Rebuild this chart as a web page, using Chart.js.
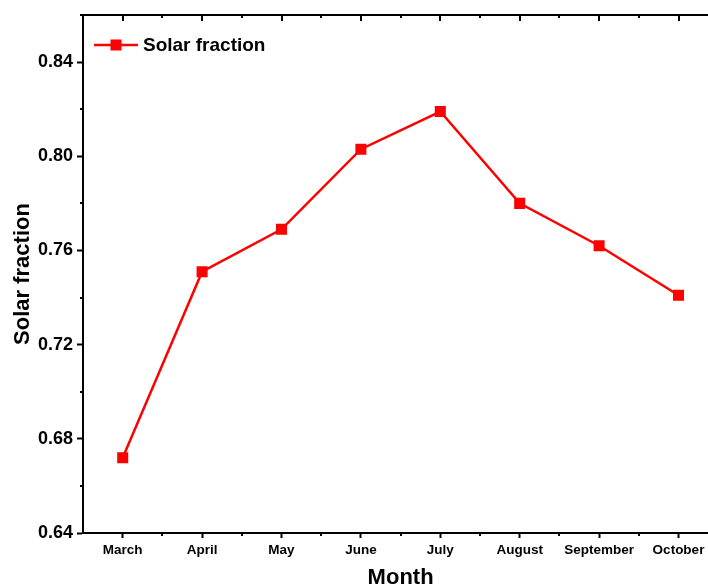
<!DOCTYPE html>
<html>
<head>
<meta charset="utf-8">
<script src="https://cdn.jsdelivr.net/npm/chart.js@4.4.1/dist/chart.umd.min.js"></script>
<style>
  html, body { margin: 0; padding: 0; background: #fff; overflow: hidden; }
  #wrap { width: 726px; height: 588px; }
</style>
</head>
<body>
<div id="wrap"><canvas id="c" width="726" height="588"></canvas></div>
<script>
// Monthly solar fraction
const months = ['March', 'April', 'May', 'June', 'July', 'August', 'September', 'October'];
const solarFraction = [0.672, 0.751, 0.769, 0.803, 0.819, 0.780, 0.762, 0.741];
const yTickValues = [0.64, 0.68, 0.72, 0.76, 0.80, 0.84];
const yMinorValues = [0.66, 0.70, 0.74, 0.78, 0.82, 0.86];
const seriesLabel = 'Solar fraction';

const FONT = "Arial, 'Liberation Sans', sans-serif";

// Frame: top border with inward ticks, minor ticks on left/bottom, legend inside plot
const framePlugin = {
  id: 'frame',
  afterDraw(chart) {
    const ctx = chart.ctx;
    const a = chart.chartArea;
    const x = chart.scales.x;
    const y = chart.scales.y;
    ctx.save();
    ctx.strokeStyle = '#000';
    ctx.lineWidth = 2;
    // top border
    ctx.beginPath();
    ctx.moveTo(a.left - 1, a.top);
    ctx.lineTo(a.right + 1, a.top);
    ctx.stroke();
    // top major ticks (inward) and minor ticks at category boundaries
    const half = (x.getPixelForValue(1) - x.getPixelForValue(0)) / 2;
    months.forEach((m, i) => {
      const px = Math.round(x.getPixelForValue(i));
      ctx.beginPath();
      ctx.moveTo(px, a.top);
      ctx.lineTo(px, a.top + 6);
      ctx.stroke();
      const bx = Math.round(x.getPixelForValue(i) + half);
      ctx.beginPath();
      ctx.moveTo(bx, a.top);
      ctx.lineTo(bx, a.top + 3);
      ctx.stroke();
      // bottom minor ticks
      ctx.beginPath();
      ctx.moveTo(bx, a.bottom);
      ctx.lineTo(bx, a.bottom + 3);
      ctx.stroke();
    });
    // left minor ticks
    yMinorValues.forEach(v => {
      const py = Math.round(y.getPixelForValue(v));
      if (py < a.top) return;
      ctx.beginPath();
      ctx.moveTo(a.left, py);
      ctx.lineTo(a.left - 3, py);
      ctx.stroke();
    });
    // legend
    const ds = chart.data.datasets[0];
    const ly = a.top + 30;
    ctx.strokeStyle = ds.borderColor;
    ctx.lineWidth = 2.5;
    ctx.beginPath();
    ctx.moveTo(a.left + 11, ly);
    ctx.lineTo(a.left + 55, ly);
    ctx.stroke();
    ctx.fillStyle = ds.pointBackgroundColor;
    ctx.fillRect(a.left + 33 - 5.5, ly - 5.5, 11, 11);
    ctx.fillStyle = '#000';
    ctx.font = 'bold 19px ' + FONT;
    ctx.textBaseline = 'middle';
    ctx.textAlign = 'left';
    ctx.fillText(ds.label, a.left + 60, ly + 1);
    ctx.restore();
  }
};

new Chart(document.getElementById('c'), {
  type: 'line',
  data: {
    labels: months,
    datasets: [{
      label: seriesLabel,
      data: solarFraction,
      borderColor: '#ff0000',
      backgroundColor: '#ff0000',
      pointBackgroundColor: '#ff0000',
      pointBorderColor: '#ff0000',
      pointStyle: 'rect',
      pointRadius: 7.8,
      pointBorderWidth: 0,
      borderWidth: 2.5,
      tension: 0,
      fill: false
    }]
  },
  options: {
    responsive: false,
    animation: false,
    devicePixelRatio: 1,
    layout: { padding: { top: 15, right: 0, left: 0, bottom: 0 } },
    plugins: {
      legend: { display: false },
      tooltip: { enabled: false }
    },
    scales: {
      x: {
        type: 'category',
        offset: true,
        afterFit(s) { s.height = 55; },
        grid: {
          display: true,
          drawOnChartArea: false,
          drawTicks: true,
          tickLength: 5,
          tickWidth: 2,
          tickColor: '#000',
          offset: false
        },
        border: { display: true, color: '#000', width: 2 },
        ticks: {
          color: '#000',
          padding: 4,
          maxRotation: 0,
          autoSkip: false,
          font: { family: FONT, size: 13.5, weight: 'bold' }
        },
        title: {
          display: true,
          text: 'Month',
          color: '#000',
          padding: { top: 8, bottom: -3 },
          font: { family: FONT, size: 22, weight: 'bold' }
        }
      },
      y: {
        type: 'linear',
        min: 0.64,
        max: 0.86,
        afterFit(s) { s.width = 83; },
        afterBuildTicks(s) { s.ticks = yTickValues.map(v => ({ value: v })); },
        grid: {
          display: true,
          drawOnChartArea: false,
          drawTicks: true,
          tickLength: 6,
          tickWidth: 2,
          tickColor: '#000'
        },
        border: { display: true, color: '#000', width: 2 },
        ticks: {
          color: '#000',
          padding: 4,
          callback: v => Number(v).toFixed(2),
          font: { family: FONT, size: 18, weight: 'bold' }
        },
        title: {
          display: true,
          text: 'Solar fraction',
          color: '#000',
          padding: { top: 10, bottom: 0 },
          font: { family: FONT, size: 22, weight: 'bold' }
        }
      }
    }
  },
  plugins: [framePlugin]
});
</script>
</body>
</html>
